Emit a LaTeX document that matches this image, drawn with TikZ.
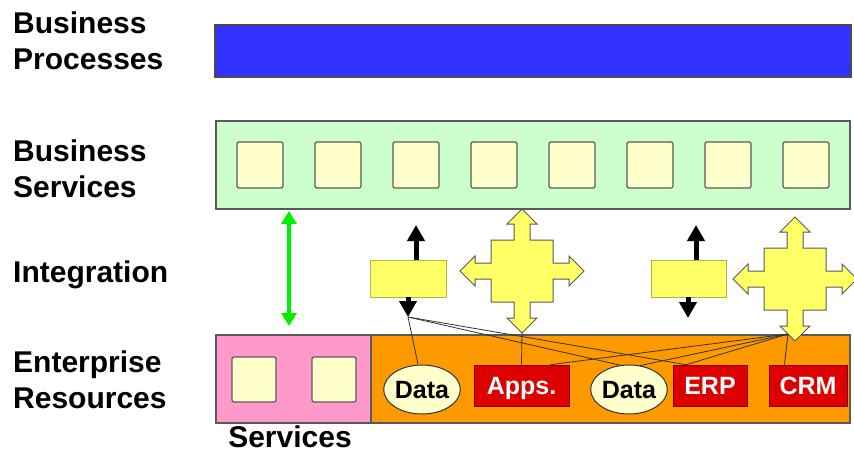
\documentclass[tikz,border=0pt]{standalone}
\usepackage{fontspec}
\setmainfont{Liberation Sans}
\usetikzlibrary{arrows.meta,calc,shapes.geometric}
\definecolor{bpblue}{RGB}{51,51,255}
\definecolor{bsgreen}{RGB}{204,255,204}
\definecolor{sqfill}{RGB}{255,255,204}
\definecolor{intyellow}{RGB}{255,255,102}
\definecolor{erpink}{RGB}{255,153,204}
\definecolor{erorange}{RGB}{255,153,0}
\definecolor{erred}{RGB}{221,0,0}
\definecolor{brightgreen}{RGB}{0,240,0}
\definecolor{edgegray}{RGB}{90,90,90}
\tikzset{
  lbl/.style={anchor=base west, inner sep=0pt, font=\fontsize{30}{36}\selectfont\bfseries},
  layerbox/.style={draw=edgegray, line width=1.2pt, inner sep=0pt},
  sqbox/.style={draw=edgegray, fill=sqfill, line width=1.2pt, rounded corners=2pt, minimum width=46pt, minimum height=46pt, inner sep=0pt},
  psq/.style={sqbox, minimum width=44pt, minimum height=45pt},
  intbox/.style={draw=intyellow!70!black, fill=intyellow, line width=0.8pt, minimum width=76pt, minimum height=37pt, inner sep=0pt},
  redbox/.style={draw=erred!60!black, fill=erred, line width=0.6pt, minimum height=41pt, inner sep=0pt, text height=18pt, text depth=0pt, text=white, font=\fontsize{25}{28}\selectfont\bfseries},
  dataell/.style={ellipse, draw=black!80, fill=sqfill, line width=1pt, minimum width=74pt, minimum height=49pt, inner sep=0pt, text height=18pt, text depth=0pt, font=\fontsize{25}{28}\selectfont\bfseries},
  blkarrow/.style={line width=5pt, -{Triangle[width=17pt,length=16pt]}},
  grnarrow/.style={line width=4pt, color=brightgreen, {Triangle[width=15pt,length=13pt]}-{Triangle[width=15pt,length=13pt]}},
  thinline/.style={draw=black!80, line width=0.8pt},
  crossstyle/.style={draw=edgegray, fill=intyellow, line width=1pt, line join=miter},
  crossarrow/.pic={
    \path[crossstyle] (0,-62) -- (15,-47) -- (8,-47) -- (8,-31) -- (31,-31) -- (31,-8) -- (47,-8) -- (47,-15) -- (62,0) -- (47,15) -- (47,8) -- (31,8) -- (31,31) -- (8,31) -- (8,47) -- (15,47) -- (0,62) -- (-15,47) -- (-8,47) -- (-8,31) -- (-31,31) -- (-31,8) -- (-47,8) -- (-47,15) -- (-62,0) -- (-47,-15) -- (-47,-8) -- (-31,-8) -- (-31,-31) -- (-8,-31) -- (-8,-47) -- (-15,-47) -- cycle;
  }
}
\begin{document}
\begin{tikzpicture}[x=1pt,y=-1pt]
\useasboundingbox[fill=white] (0,0) rectangle (854,452);

% left labels
\node[lbl] (lbp1) at (13,34) {Business};
\node[lbl] (lbp2) at (13,70) {Processes};
\node[lbl] (lbs1) at (13,161) {Business};
\node[lbl] (lbs2) at (13,197) {Services};
\node[lbl] (lint) at (13,282) {Integration};
\node[lbl] (ler1) at (13,372) {Enterprise};
\node[lbl] (ler2) at (13,408) {Resources};

% business processes
\node[layerbox, fill=bpblue, draw=black!70, minimum width=636pt, minimum height=52pt] (bp) at (533,51) {};

% business services
\node[layerbox, fill=bsgreen, draw=edgegray, minimum width=634pt, minimum height=88pt] (bs) at (533,165) {};
\foreach \i in {0,...,7} {
  \node[sqbox] (s\i) at ({260+78*\i},165) {};
}

% enterprise resources
\node[layerbox, fill=erpink, minimum width=155pt, minimum height=88pt] (pk) at (293.5,379) {};
\node[layerbox, fill=erorange, minimum width=479pt, minimum height=88pt] (or) at (610.5,379) {};
\node[psq] (p1) at (254,379.5) {};
\node[psq] (p2) at (334,379.5) {};
\node[lbl, anchor=base] (svc) at (290,447) {Services};

\node[dataell] (d1) at (422,389.5) {Data};
\node[redbox, minimum width=95pt] (apps) at (521.5,385.5) {Apps.};
\node[dataell] (d2) at (629,389.5) {Data};
\node[redbox, minimum width=74pt] (erp) at (710,385.5) {ERP};
\node[redbox, minimum width=78pt] (crm) at (808,385.5) {CRM};

% integration
\node[intbox] (r1) at (408,278.5) {};
\node[intbox, minimum width=75pt] (r2) at (688.5,278.5) {};
\pic at (522,271) {crossarrow};
\pic at (795,279) {crossarrow};
\coordinate (c1b) at (522,333);
\coordinate (c2b) at (788,334);

\coordinate (r1u) at (416,225);
\coordinate (r1d) at (408,317);
\coordinate (r2u) at (696,225);
\coordinate (r2d) at (688,318);
\draw[blkarrow] (r1.north -| r1u) -- (r1u);
\draw[blkarrow] (r1.south -| r1d) -- (r1d);
\draw[blkarrow] (r2.north -| r2u) -- (r2u);
\draw[blkarrow] (r2.south -| r2d) -- (r2d);

% green double arrow
\coordinate (gt) at (289,211);
\coordinate (gb) at (289,326);
\draw[grnarrow] (gt) -- (gb);

% thin connectors
\draw[thinline] (d1.99) -- (r1d);
\draw[thinline] (r1d) -- (d2.110);
\draw[thinline] (r1d) -- ($(erp.north west)!0.18!(erp.north east)$);
\draw[thinline] (apps.north) -- (c1b);
\draw[thinline] ($(apps.north west)!0.8!(apps.north east)$) -- (c2b);
\draw[thinline] (d2.65) -- (c2b);
\draw[thinline] ($(erp.north west)!0.18!(erp.north east)$) -- (c2b);
\draw[thinline] ($(crm.north west)!0.2!(crm.north east)$) -- (c2b);
\end{tikzpicture}
\end{document}
